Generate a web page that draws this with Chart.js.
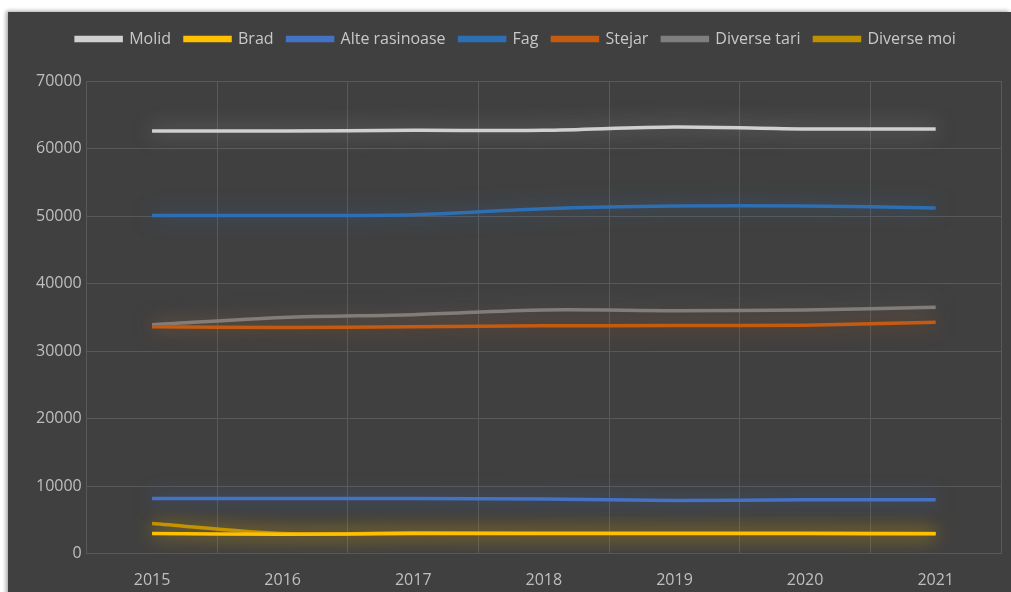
<!DOCTYPE html>
<html>
<head>
<meta charset="utf-8">
<script src="https://cdn.jsdelivr.net/npm/chart.js@4"></script>
<style>
    body { margin: 0; background: #ffffff; overflow: hidden; }
    #box {
        position: absolute; left: 8px; top: 12px;
        width: 1003px; height: 595px;
        background: #404040;
        box-shadow: -2px -1px 4px rgba(0,0,0,0.35);
    }
</style>
</head>
<body>
<div id="box"><canvas id="woodChart" width="1003" height="595"></canvas></div>
<script>
// Ani si valori (mii m3)
const years = ['2015', '2016', '2017', '2018', '2019', '2020', '2021'];
const molid = [62600, 62600, 62700, 62700, 63200, 62900, 62900];
const brad = [3000, 2900, 3000, 3000, 3000, 3000, 2950];
const alteRasinoase = [8200, 8200, 8200, 8100, 7900, 8000, 8000];
const fag = [50100, 50100, 50200, 51100, 51500, 51500, 51200];
const stejar = [33600, 33500, 33600, 33750, 33800, 33850, 34300];
const diverseTari = [33900, 35000, 35400, 36100, 36000, 36100, 36500];
const diverseMoi = [4500, 3000, 3100, 3050, 3050, 3050, 3000];

const textColor = '#bfbfbf';
const gridColor = '#595959';

function serie(label, data, color, glow) {
    return {
        label: label,
        data: data,
        borderColor: color,
        backgroundColor: color,
        borderWidth: 3.5,
        pointRadius: 0,
        tension: 0.3,
        glow: glow
    };
}

// efect de "glow" ca in Excel
const glowPlugin = {
    id: 'glow',
    beforeDatasetDraw(chart, args) {
        const ds = chart.data.datasets[args.index];
        chart.ctx.save();
        chart.ctx.shadowColor = ds.glow;
        chart.ctx.shadowBlur = 20;
    },
    afterDatasetDraw(chart) {
        chart.ctx.restore();
    }
};

// mai mult spatiu sub legenda
const legendSpace = {
    id: 'legendSpace',
    beforeInit(chart) {
        const fit = chart.legend.fit;
        chart.legend.fit = function () {
            fit.bind(chart.legend)();
            this.height += 24;
        };
    }
};

let ctx = document.getElementById('woodChart').getContext('2d');
let woodChart = new Chart(ctx, {
    type: 'line',
    data: {
        labels: years,
        datasets: [
            serie('Molid', molid, '#d0d0d0', 'rgba(210,210,210,0.55)'),
            serie('Brad', brad, '#ffc000', 'rgba(255,192,0,0.75)'),
            serie('Alte rasinoase', alteRasinoase, '#4472c4', 'rgba(68,114,196,0.7)'),
            serie('Fag', fag, '#2e6fb3', 'rgba(46,111,179,0.7)'),
            serie('Stejar', stejar, '#c55a11', 'rgba(197,90,17,0.65)'),
            serie('Diverse tari', diverseTari, '#7f7f7f', 'rgba(127,127,127,0.5)'),
            serie('Diverse moi', diverseMoi, '#bf9000', 'rgba(191,144,0,0.75)')
        ]
    },
    options: {
        responsive: false,
        animation: false,
        layout: {
            padding: { left: 23, right: 10, top: 5, bottom: 0 }
        },
        plugins: {
            legend: {
                position: 'top',
                labels: {
                    color: '#c8c8c8',
                    boxWidth: 45,
                    boxHeight: 3,
                    padding: 14,
                    font: { family: 'Open Sans', size: 16 }
                }
            },
            tooltip: { enabled: false }
        },
        scales: {
            x: {
                offset: true,
                grid: { offset: true, color: gridColor, drawTicks: false },
                border: { display: false },
                ticks: { color: textColor, padding: 17, font: { family: 'Open Sans', size: 16 } }
            },
            y: {
                min: 0,
                max: 70000,
                grid: { color: gridColor, drawTicks: false },
                border: { display: false },
                ticks: {
                    stepSize: 10000,
                    color: textColor,
                    padding: 5,
                    font: { family: 'Open Sans', size: 16 },
                    callback: function (value) { return String(value); }
                }
            }
        }
    },
    plugins: [glowPlugin, legendSpace]
});
</script>
</body>
</html>
